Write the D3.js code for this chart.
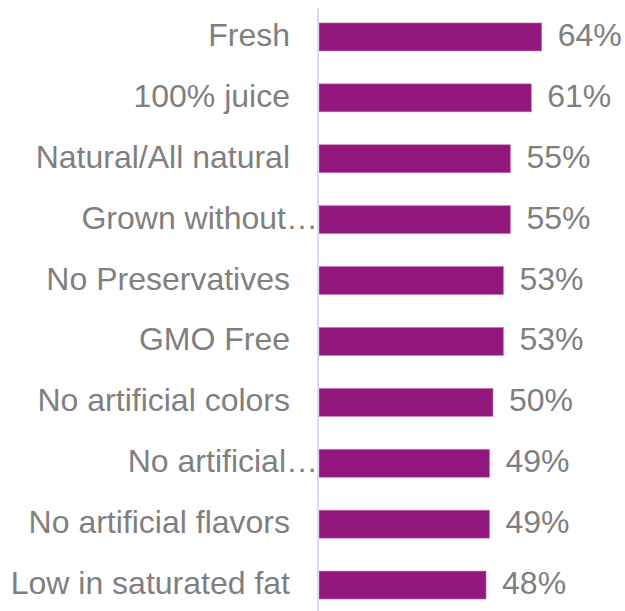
<!doctype html>
<html>
<head>
<script src="https://cdnjs.cloudflare.com/ajax/libs/d3/7.8.5/d3.min.js"></script>
<style>
body { margin: 0; background: #fff; }
text { font-family: "Liberation Sans", Arial, sans-serif; font-size: 32px; fill: #7f7f7f; }
.bar { fill: #93187e; stroke: #c77bb8; stroke-width: 0.6px; }
.axis-line { stroke: #d6dcf2; stroke-width: 2px; }
</style>
</head>
<body>
<svg id="chart" width="625" height="611"></svg>
<script>
var categories = ["Fresh", "100% juice", "Natural/All natural", "Grown without\u2026",
  "No Preservatives", "GMO Free", "No artificial colors", "No artificial\u2026",
  "No artificial flavors", "Low in saturated fat"];
var values = [64, 61, 55, 55, 53, 53, 50, 49, 49, 48];

var svg = d3.select("#chart");
var left = 319;

var x = d3.scaleLinear().domain([0, 70]).range([left, left + 243.6]);
var y = d3.scaleBand().domain(categories).range([6.5, 615.5]).paddingInner(0.54).paddingOuter(0.27);

svg.append("g")
  .selectAll("rect")
  .data(values)
  .enter()
  .append("rect")
  .attr("class", "bar")
  .attr("x", x(0))
  .attr("y", (d, i) => y(categories[i]))
  .attr("width", d => x(d) - x(0))
  .attr("height", y.bandwidth());

svg.append("line")
  .attr("class", "axis-line")
  .attr("x1", left - 1).attr("x2", left - 1)
  .attr("y1", 8).attr("y2", 611);

svg.append("g")
  .selectAll("text")
  .data(categories)
  .enter()
  .append("text")
  .attr("x", d => d.endsWith("\u2026") ? left - 1 : left - 29)
  .attr("y", d => y(d) + y.bandwidth() / 2)
  .attr("dy", "0.28em")
  .style("text-anchor", "end")
  .text(d => d);

svg.append("g")
  .selectAll("text")
  .data(values)
  .enter()
  .append("text")
  .attr("x", d => x(d) + 16)
  .attr("y", (d, i) => y(categories[i]) + y.bandwidth() / 2)
  .attr("dy", "0.28em")
  .text(d => d + "%");
</script>
</body>
</html>
